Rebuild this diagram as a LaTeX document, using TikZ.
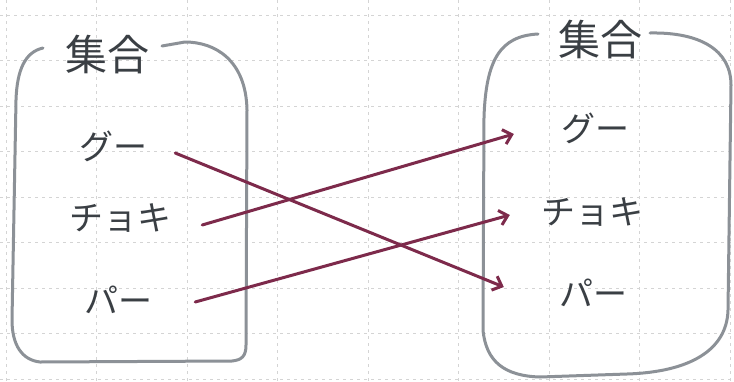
\documentclass[tikz,border=0pt]{standalone}
\usepackage{fontspec}
\newfontfamily\jpfont{Noto Sans CJK JP}
\usetikzlibrary{arrows.meta}
\definecolor{gridc}{HTML}{D4D4D4}
\definecolor{boxc}{HTML}{8C9197}
\definecolor{inkc}{HTML}{3A3F44}
\definecolor{arrc}{HTML}{7D2A4B}
\tikzset{
  gridline/.style={draw=gridc, line width=0.7pt, dash pattern=on 3pt off 4pt},
  setbox/.style={draw=boxc, line width=3pt, line cap=round, line join=round},
  settitle/.style={text=inkc, font=\jpfont\fontsize{42}{46}\selectfont, inner sep=2pt},
  elem/.style={text=inkc, font=\jpfont\fontsize{34}{38}\selectfont, inner sep=3pt},
  maparrow/.style={draw=arrc, line width=3pt, line cap=round,
    -{Straight Barb[length=8pt,width=15pt,line width=3pt]}},
}
\begin{document}
\begin{tikzpicture}[x=1pt,y=-1pt]
\useasboundingbox[fill=white] (0,0) rectangle (734,381);
% grid
\foreach \yy in {15,60.5,106,151.5,197,242.5,288,333.5,379}
  \draw[gridline] (0,\yy) -- (734,\yy);
\foreach \xx in {6,96.5,187,277.5,368,458.5,549,639.5,730}
  \draw[gridline] (\xx,0) -- (\xx,381);
% left set
\draw[setbox] (43,48) .. controls (25,52) and (17,70) .. (16,100)
  -- (12,320) .. controls (12,345) and (22,360) .. (40,362)
  -- (232,361) .. controls (242,360) and (246,356) .. (246,345)
  -- (247,110) .. controls (246,60) and (215,42) .. (185,42)
  -- (162,46);
\node[settitle] (tl) at (107,55) {集合};
\node[elem] (l1) at (113,146) {グー};
\node[elem] (l2) at (120,218) {チョキ};
\node[elem] (l3) at (118,300) {パー};
% right set
\draw[setbox] (538,34) .. controls (500,36) and (486,60) .. (484,117)
  -- (483,330) .. controls (486,362) and (505,376) .. (540,377)
  -- (627,374) .. controls (690,372) and (727,350) .. (728,310)
  -- (731,85) .. controls (731,50) and (700,32) .. (650,33);
\node[settitle] (tr) at (600,40) {集合};
\node[elem] (r1) at (595,128) {グー};
\node[elem] (r2) at (592,212) {チョキ};
\node[elem] (r3) at (593,293) {パー};
% mappings
\draw[maparrow] ([xshift=25pt,yshift=-7pt]l1.east) -- ([xshift=-52pt,yshift=6pt]r3.west);
\draw[maparrow] ([xshift=28pt,yshift=-7pt]l2.east) -- ([xshift=-44pt,yshift=-6pt]r1.west);
\draw[maparrow] ([xshift=40pt,yshift=-2pt]l3.east) -- ([xshift=-28pt,yshift=-3pt]r2.west);
\end{tikzpicture}
\end{document}
